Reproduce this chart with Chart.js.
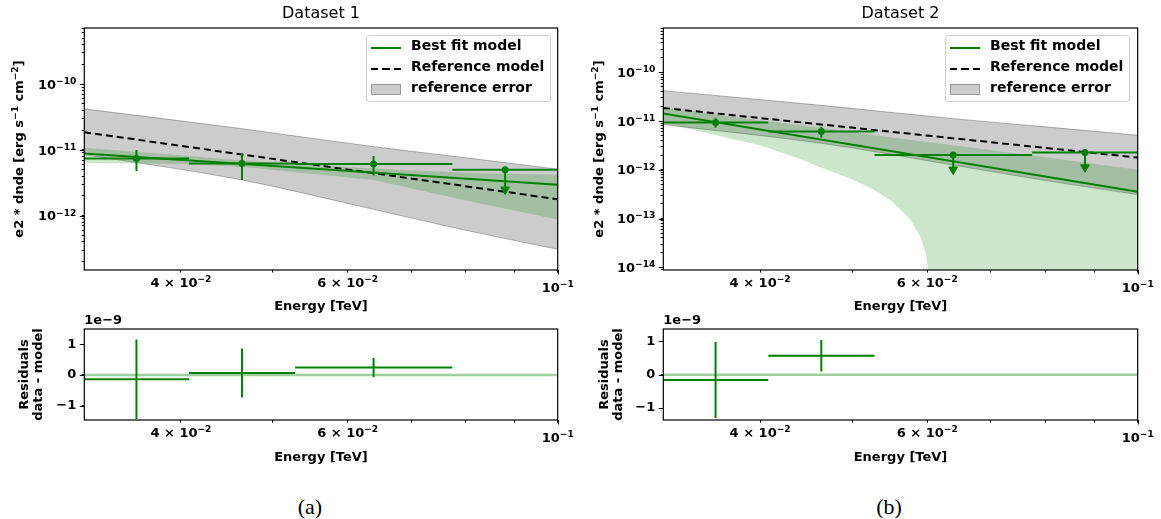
<!DOCTYPE html>
<html lang="en">
<head>
<meta charset="UTF-8">
<title>Flux points and residuals</title>
<script src="https://cdn.jsdelivr.net/npm/chart.js"></script>
<style>
  * { margin: 0; padding: 0; box-sizing: border-box; }
  body {
    width: 1161px; height: 519px; background: #fff;
    position: relative; overflow: hidden;
    font-family: 'DejaVu Sans', sans-serif;
  }
  canvas.panel { position: absolute; }

  /* legend boxes drawn on top of the spectrum panels */
  .legend {
    position: absolute; top: 35px; width: 185px; height: 67px;
    background: rgba(255, 255, 255, 0.8);
    border: 1px solid #cfcfcf; border-radius: 3px;
  }
  .legend .row {
    position: absolute; left: 0; right: 0; height: 21px;
    line-height: 21px; padding-left: 44px;
    font: bold 14px 'DejaVu Sans', sans-serif; color: #000; white-space: nowrap;
  }
  .legend .line  { position: absolute; left: 4px; top: 9.5px; width: 30px; height: 2px; background: #008000; }
  .legend .dash  { position: absolute; left: 4px; top: 9.5px; width: 30px; height: 2px;
                   background: repeating-linear-gradient(to right, #000 0 7px, transparent 7px 11.5px); }
  .legend .patch { position: absolute; left: 4px; top: 5px; width: 30px; height: 11px;
                   background: rgba(0, 0, 0, 0.2); border: 1px solid rgba(0, 0, 0, 0.25); }

  .caption {
    position: absolute; top: 494px; width: 60px; text-align: center;
    font: 22px 'Liberation Serif', serif; color: #000;
  }
</style>
</head>
<body>
  <canvas id="spec1" class="panel" width="580" height="318" style="left:0;top:0"></canvas>
  <canvas id="spec2" class="panel" width="581" height="318" style="left:580px;top:0"></canvas>
  <canvas id="res1" class="panel" width="580" height="157" style="left:0;top:312px"></canvas>
  <canvas id="res2" class="panel" width="581" height="157" style="left:580px;top:312px"></canvas>

  <div class="legend" id="legend1" style="left:366px"></div>
  <div class="legend" id="legend2" style="left:945px"></div>

  <div class="caption" style="left:280px">(a)</div>
  <div class="caption" style="left:859px">(b)</div>

<script>
// ---- energy axis (TeV) ----
const xMin = 0.031623;
const xMax = 0.1;
const binEdges = [0.0316, 0.0408, 0.0528, 0.0774, 0.1];
const binCenters = [0.0359, 0.0464, 0.0639, 0.0880];
const xTickValues = [0.04, 0.06, 0.1];
const xTickLabels = ['4 × 10⁻²', '6 × 10⁻²', '10⁻¹'];

// ---- y tick labels ----
const spec1TickValues = [1e-12, 1e-11, 1e-10];
const spec1TickLabels = ['10⁻¹²', '10⁻¹¹', '10⁻¹⁰'];
const spec2TickValues = [1e-14, 1e-13, 1e-12, 1e-11, 1e-10];
const spec2TickLabels = ['10⁻¹⁴', '10⁻¹³', '10⁻¹²', '10⁻¹¹', '10⁻¹⁰'];
const residTickValues = [-1e-9, 0, 1e-9];
const residTickLabels = ['−1', '0', '1'];
const specYTitle = 'e2 * dnde [erg s⁻¹ cm⁻²]';

// ---- reference model, same in both panels ----
const refEnergy = [0.0316, 0.1];
const refFlux = [1.86e-11, 1.78e-12];
const refErrEnergy = [0.0316, 0.0464, 0.0639, 0.08, 0.1];
const refErrHigh = [4.2e-11, 2.1e-11, 1.12e-11, 7.6e-12, 5.1e-12];
const refErrLow = [8.5e-12, 3.5e-12, 1.25e-12, 6.0e-13, 3.1e-13];

// ---- dataset 1 ----
const ds1Flux = [7.4e-12, 6.2e-12, 6.1e-12, 5.0e-12];
const ds1FluxErr = [2.6e-12, 2.7e-12, 2.0e-12, 0];
const ds1UpperLimit = [false, false, false, true];
const ds1FitEnergy = [0.0316, 0.1];
const ds1FitFlux = [8.8e-12, 2.95e-12];
const ds1BandEnergy = [0.0316, 0.04, 0.0466, 0.0639, 0.08, 0.1];
const ds1BandHigh = [1.08e-11, 8.3e-12, 6.9e-12, 5.2e-12, 4.5e-12, 4.2e-12];
const ds1BandLow = [6.3e-12, 6.1e-12, 5.5e-12, 3.5e-12, 1.7e-12, 8.8e-13];
const ds1Resid = [-0.14e-9, 0.066e-9, 0.24e-9];
const ds1ResidErr = [1.3e-9, 0.8e-9, 0.31e-9];

// ---- dataset 2 ----
const ds2Flux = [9.35e-12, 6.1e-12, 2.02e-12, 2.25e-12];
const ds2FluxErr = [2.05e-12, 1.5e-12, 0, 0];
const ds2UpperLimit = [false, false, true, true];
const ds2FitEnergy = [0.0316, 0.1];
const ds2FitFlux = [1.43e-11, 3.55e-13];
const ds2BandEnergy = [0.0316, 0.04, 0.0464, 0.0526, 0.0639, 0.08, 0.1];
const ds2BandHigh = [1.93e-11, 1.02e-11, 7.3e-12, 5.2e-12, 3.2e-12, 1.8e-12, 1.0e-12];
// lower edge falls to zero flux above ~0.06 TeV (1e-16 sits below the axis)
const ds2BandLowEnergy = [0.0316, 0.034, 0.037, 0.04, 0.0443, 0.0464, 0.05, 0.0526, 0.055, 0.0575, 0.059, 0.0598, 0.0603, 0.0606, 0.1];
const ds2BandLow = [9.3e-12, 6.6e-12, 4.5e-12, 3.2e-12, 1.6e-12, 1.1e-12, 6.4e-13, 4.0e-13, 2.3e-13, 1.0e-13, 4.3e-14, 1.9e-14, 6e-15, 1e-16, 1e-16];
const ds2Resid = [-0.16e-9, 0.567e-9];
const ds2ResidErr = [1.14e-9, 0.47e-9];

const green = '#008000';

Chart.defaults.font.family = "'DejaVu Sans', sans-serif";
Chart.defaults.color = '#000';
Chart.defaults.animation = false;

const tickFont = { size: 13, weight: 'bold' };
const titleFont = { size: 13, weight: 'bold' };
const MAJOR_TICK = 4.5;

const pairs = (xs, ys) => xs.map((x, i) => ({ x, y: ys[i] }));

// all 1..9 x 10^n positions inside [min, max]
function logTickPositions(min, max) {
  const out = [];
  for (let e = Math.floor(Math.log10(min)); e <= Math.ceil(Math.log10(max)); e++) {
    for (let k = 1; k < 10; k++) {
      const v = k * Math.pow(10, e);
      if (v >= min * 0.999 && v <= max * 1.001) out.push(v);
    }
  }
  return out;
}

function labelFor(v, values, labels) {
  const i = values.findIndex(t => t === 0 ? Math.abs(v) < 1e-15 : Math.abs(v / t - 1) < 1e-6);
  return i < 0 ? '' : labels[i];
}

const isDecade = v => { const lg = Math.log10(v); return Math.abs(lg - Math.round(lg)) < 1e-9; };

// text with superscript characters drawn as smaller raised runs
const SUP = '⁻⁰¹²³⁴⁵⁶⁷⁸⁹';
const PLAIN = '−0123456789';
function splitSup(text) {
  const parts = [];
  for (const ch of text) {
    const k = SUP.indexOf(ch);
    const sup = k >= 0;
    const c = sup ? PLAIN[k] : ch;
    const last = parts[parts.length - 1];
    if (last && last.sup === sup) last.t += c; else parts.push({ t: c, sup });
  }
  return parts;
}
function drawMath(ctx, text, x, y, size, align) {
  const parts = splitSup(text);
  const fontOf = p => `bold ${p.sup ? size * 0.7 : size}px 'DejaVu Sans', sans-serif`;
  let total = 0;
  parts.forEach(p => { ctx.font = fontOf(p); p.w = ctx.measureText(p.t).width; total += p.w; });
  let cx = align === 'right' ? x - total : align === 'center' ? x - total / 2 : x;
  ctx.textAlign = 'left';
  ctx.textBaseline = 'alphabetic';
  parts.forEach(p => {
    ctx.font = fontOf(p);
    ctx.fillText(p.t, cx, p.sup ? y - size * 0.38 : y);
    cx += p.w;
  });
}

// major tick marks, tick labels and y title with exponents
const mathLabelsPlugin = {
  id: 'mathLabels',
  afterDraw(chart, args, opts) {
    const { ctx, chartArea: a, scales } = chart;
    ctx.save();
    ctx.strokeStyle = '#000';
    ctx.lineWidth = 1;
    ctx.beginPath();
    scales.x.ticks.filter(t => isDecade(t.value)).forEach(t => {
      const px = Math.round(scales.x.getPixelForValue(t.value)) + 0.5;
      ctx.moveTo(px, a.bottom); ctx.lineTo(px, a.bottom + MAJOR_TICK);
    });
    (opts.yMajor || []).forEach(v => {
      const py = Math.round(scales.y.getPixelForValue(v)) + 0.5;
      ctx.moveTo(a.left, py); ctx.lineTo(a.left - MAJOR_TICK, py);
    });
    ctx.stroke();

    ctx.fillStyle = '#000';
    xTickValues.forEach((v, i) => {
      drawMath(ctx, xTickLabels[i], scales.x.getPixelForValue(v), a.bottom + (isDecade(v) ? 22 : 17), 13, 'center');
    });
    (opts.yValues || []).forEach((v, i) => {
      drawMath(ctx, opts.yLabels[i], a.left - 8, scales.y.getPixelForValue(v) + 4.7, 13, 'right');
    });
    if (opts.yTitle) {
      ctx.translate(opts.yTitleX, (a.top + a.bottom) / 2);
      ctx.rotate(-Math.PI / 2);
      drawMath(ctx, opts.yTitle, 0, 0, 13, 'center');
    }
    ctx.restore();
  }
};

// horizontal bin bar + vertical error bar per point, gaps between them
function errorBars(values, errs, ul) {
  const pts = [];
  values.forEach((v, i) => {
    const lo = ul && ul[i] ? v * 0.5 : v - errs[i];
    const hi = ul && ul[i] ? v : v + errs[i];
    pts.push({ x: binEdges[i], y: v }, { x: binEdges[i + 1], y: v }, { x: binCenters[i], y: null },
             { x: binCenters[i], y: lo }, { x: binCenters[i], y: hi }, { x: binCenters[i], y: null });
  });
  return pts;
}

const gridOpts = { drawOnChartArea: false, drawTicks: true, tickLength: 2.6, tickColor: '#000', tickWidth: 1 };

function xAxis(height) {
  return {
    type: 'logarithmic', min: xMin, max: xMax, bounds: 'data',
    afterBuildTicks: s => { s.ticks = logTickPositions(xMin, xMax).map(v => ({ value: v })); },
    afterFit: s => { s.height = height; },
    ticks: { display: false, autoSkip: false, maxRotation: 0, minRotation: 0 },
    grid: gridOpts,
    border: { display: false },
    title: { display: true, text: 'Energy [TeV]', font: titleFont, padding: { top: 0, bottom: 3.7 } }
  };
}

// black box around the plotting area
const framePlugin = {
  id: 'frame',
  afterDraw(chart) {
    const { ctx, chartArea: a } = chart;
    ctx.save();
    ctx.strokeStyle = '#000';
    ctx.lineWidth = 1.2;
    ctx.strokeRect(a.left, a.top, a.right - a.left, a.bottom - a.top);
    ctx.restore();
  }
};

function spectrumChart(id, o) {
  const line = (data, extra) => Object.assign({ data, showLine: true, pointRadius: 0, clip: 0 }, extra);
  const edge = { cubicInterpolationMode: 'monotone' };
  return new Chart(document.getElementById(id), {
    type: 'scatter',
    data: {
      datasets: [
        { data: pairs(binCenters, o.flux), showLine: false, pointRadius: 3.5,
          pointBackgroundColor: green, pointBorderWidth: 0 },
        { data: o.flux.map((f, i) => ({ x: binCenters[i], y: o.ul[i] ? f * 0.5 : null })), showLine: false,
          pointStyle: 'triangle', pointRotation: 180, pointRadius: 5,
          pointBackgroundColor: green, pointBorderColor: green, pointBorderWidth: 1 },
        line(errorBars(o.flux, o.err, o.ul), { borderColor: green, borderWidth: 2 }),
        line(pairs(o.fitEnergy, o.fitFlux), { borderColor: green, borderWidth: 2 }),
        line(pairs(refEnergy, refFlux), { borderColor: '#000', borderWidth: 2, borderDash: [7, 4] }),
        line(pairs(o.bandEnergy, o.bandHigh), Object.assign({ borderColor: 'transparent', borderWidth: 0,
          fill: '+1', backgroundColor: 'rgba(0,128,0,0.2)' }, edge)),
        line(pairs(o.bandLowEnergy, o.bandLow), { borderColor: 'transparent', borderWidth: 0 }),
        line(pairs(refErrEnergy, refErrHigh), Object.assign({ borderColor: 'rgba(0,0,0,0.28)', borderWidth: 1,
          fill: '+1', backgroundColor: 'rgba(0,0,0,0.2)' }, edge)),
        line(pairs(refErrEnergy, refErrLow), Object.assign({ borderColor: 'rgba(0,0,0,0.28)', borderWidth: 1 }, edge))
      ]
    },
    options: {
      responsive: false,
      events: [],
      layout: { padding: { left: 0, top: 0, bottom: 0, right: o.padRight } },
      plugins: {
        legend: { display: false },
        tooltip: { enabled: false },
        title: { display: true, text: o.title, fullSize: false, color: '#000',
                 font: { size: 16, weight: 'normal' }, padding: { top: 4.4, bottom: 4.4 } },
        mathLabels: { yValues: o.tickValues, yLabels: o.tickLabels, yMajor: o.tickValues,
                      yTitle: specYTitle, yTitleX: 23.3 }
      },
      scales: {
        x: xAxis(48),
        y: {
          type: 'logarithmic', min: o.yMin, max: o.yMax, bounds: 'data',
          afterBuildTicks: s => { s.ticks = logTickPositions(o.yMin, o.yMax).map(v => ({ value: v })); },
          afterFit: s => { s.width = o.yWidth; },
          ticks: { display: false, autoSkip: false },
          grid: gridOpts,
          border: { display: false }
        }
      }
    },
    plugins: [framePlugin, mathLabelsPlugin]
  });
}

function residualChart(id, o) {
  return new Chart(document.getElementById(id), {
    type: 'scatter',
    data: {
      datasets: [
        { data: errorBars(o.resid, o.err, null), showLine: true, pointRadius: 0,
          borderColor: green, borderWidth: 2, clip: 0 },
        { data: pairs([xMin, xMax], [0, 0]), showLine: true, pointRadius: 0,
          borderColor: 'rgba(0,128,0,0.38)', borderWidth: 2.5, clip: 0 }
      ]
    },
    options: {
      responsive: false,
      events: [],
      layout: { padding: { left: 0, top: 0, bottom: 0, right: o.padRight } },
      plugins: {
        legend: { display: false },
        tooltip: { enabled: false },
        title: { display: true, text: '1e\u22129', align: 'start', fullSize: false, color: '#000',
                 font: { size: 13, weight: 'bold' }, padding: { top: 0.9, bottom: 0.5 } },
        mathLabels: { yMajor: residTickValues }
      },
      scales: {
        x: xAxis(49),
        y: {
          type: 'linear', min: o.yMin, max: o.yMax, bounds: 'data',
          afterBuildTicks: s => { s.ticks = residTickValues.map(v => ({ value: v })); },
          afterFit: s => { s.width = o.yWidth; },
          ticks: { autoSkip: false, padding: 5.5, font: tickFont,
                   callback: v => labelFor(v, residTickValues, residTickLabels) },
          grid: gridOpts,
          border: { display: false },
          title: { display: true, text: ['Residuals', 'data - model'],
                   font: { size: 13, weight: 'bold', lineHeight: 1.13 }, padding: { top: 16.8, bottom: 0 } }
        }
      }
    },
    plugins: [framePlugin, mathLabelsPlugin]
  });
}

spectrumChart('spec1', {
  title: 'Dataset 1', flux: ds1Flux, err: ds1FluxErr, ul: ds1UpperLimit,
  fitEnergy: ds1FitEnergy, fitFlux: ds1FitFlux,
  bandEnergy: ds1BandEnergy, bandHigh: ds1BandHigh, bandLowEnergy: ds1BandEnergy, bandLow: ds1BandLow,
  yMin: 1.5e-13, yMax: 7.1e-10, tickValues: spec1TickValues, tickLabels: spec1TickLabels,
  yWidth: 84.3, padRight: 22.3
});
spectrumChart('spec2', {
  title: 'Dataset 2', flux: ds2Flux, err: ds2FluxErr, ul: ds2UpperLimit,
  fitEnergy: ds2FitEnergy, fitFlux: ds2FitFlux,
  bandEnergy: ds2BandEnergy, bandHigh: ds2BandHigh, bandLowEnergy: ds2BandLowEnergy, bandLow: ds2BandLow,
  yMin: 8.8e-15, yMax: 8.1e-10, tickValues: spec2TickValues, tickLabels: spec2TickLabels,
  yWidth: 83.3, padRight: 23.3
});
residualChart('res1', { resid: ds1Resid, err: ds1ResidErr, yMin: -1.47e-9, yMax: 1.5e-9, yWidth: 84.3, padRight: 22.3 });
residualChart('res2', { resid: ds2Resid, err: ds2ResidErr, yMin: -1.36e-9, yMax: 1.37e-9, yWidth: 83.3, padRight: 23.3 });

// legends
const legendItems = [
  { label: 'Best fit model', handle: 'line' },
  { label: 'Reference model', handle: 'dash' },
  { label: 'reference error', handle: 'patch' }
];
['legend1', 'legend2'].forEach(id => {
  const box = document.getElementById(id);
  legendItems.forEach((item, i) => {
    const row = document.createElement('div');
    row.className = 'row';
    row.style.top = (1.2 + i * 21) + 'px';
    const h = document.createElement('span');
    h.className = item.handle;
    row.appendChild(h);
    row.appendChild(document.createTextNode(item.label));
    box.appendChild(row);
  });
});
</script>
</body>
</html>
